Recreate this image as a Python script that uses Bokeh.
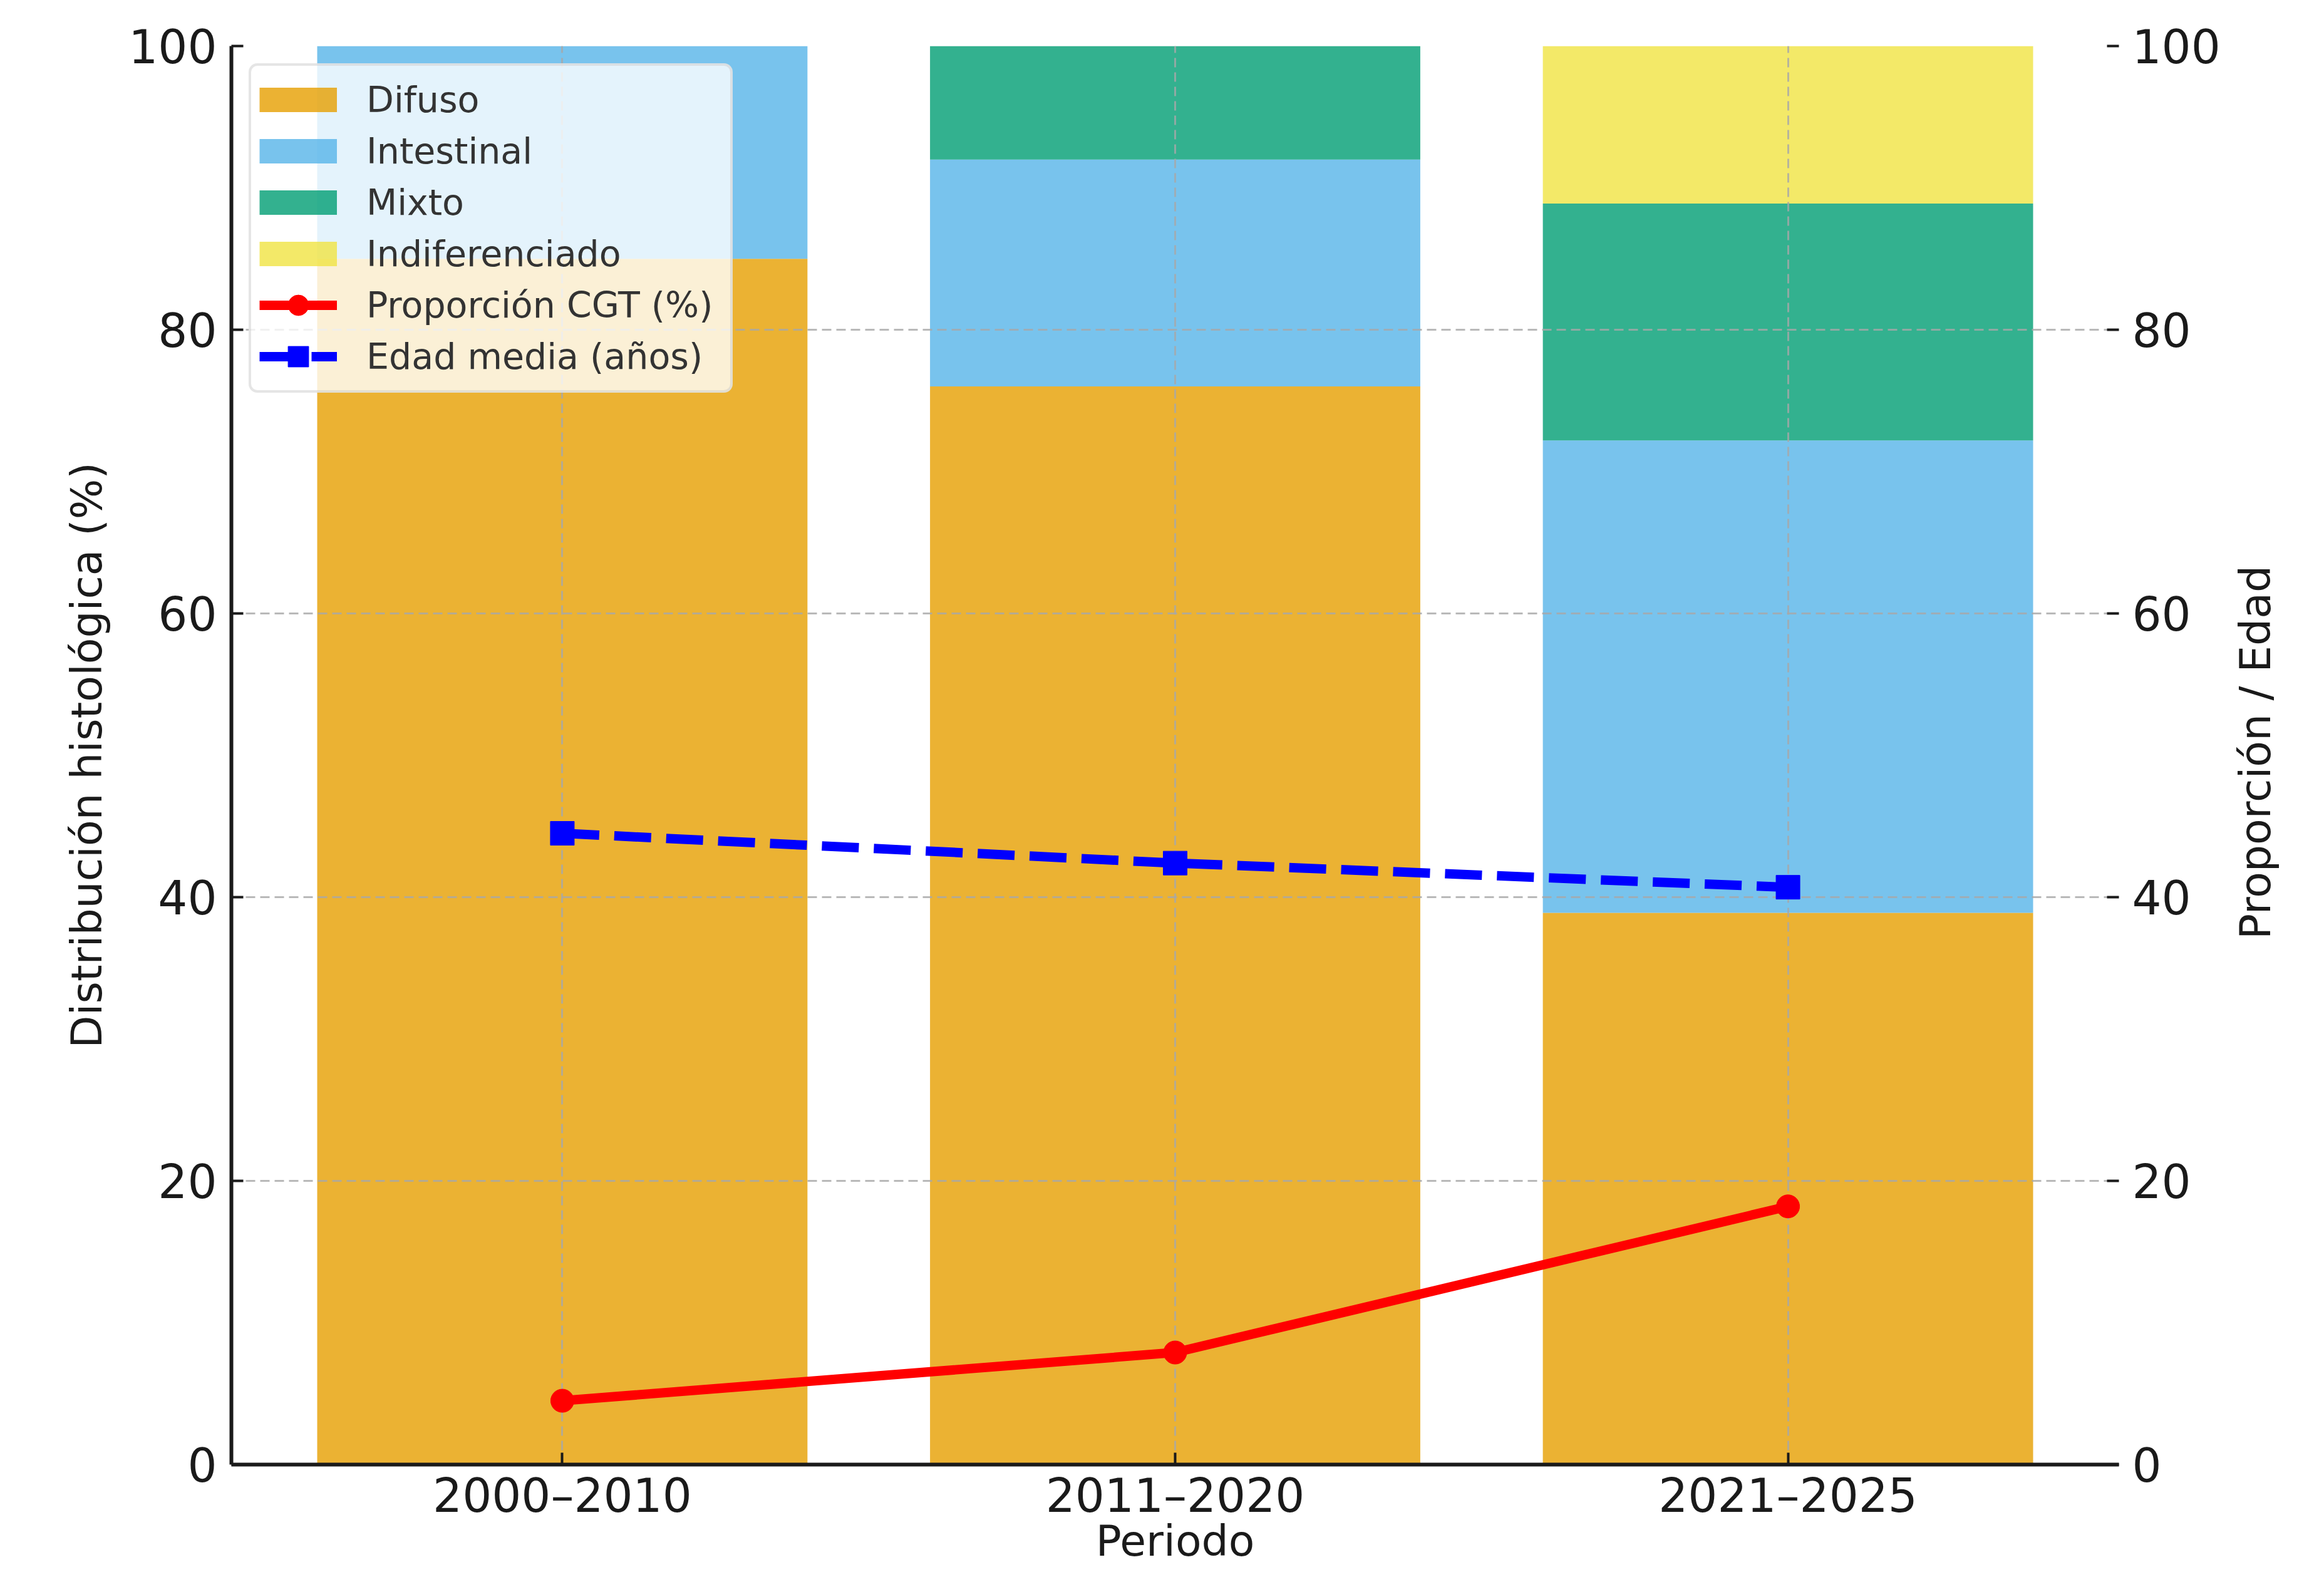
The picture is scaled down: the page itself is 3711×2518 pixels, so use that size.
import math
from bokeh.plotting import figure
from bokeh.models import (FactorRange, Range1d, LinearAxis, Legend, LegendItem,
                          FixedTicker, ColumnDataSource, Label)
from bokeh.embed import file_html
from bokeh.resources import INLINE

# ---- data ----
periods = ["2000–2010", "2011–2020", "2021–2025"]
histotypes = ["Difuso", "Intestinal", "Mixto", "Indiferenciado"]
difuso = [85.0, 76.0, 38.9]
intestinal = [15.0, 16.0, 33.3]
mixto = [0.0, 8.0, 16.7]
indiferenciado = [0.0, 0.0, 11.1]
cgt_pct = [4.5, 7.9, 18.2]
edad_media = [44.5, 42.4, 40.7]
y_ticks = [0, 20, 40, 60, 80, 100]

# ---- styles ----
colors = ["#E69F00", "#56B4E9", "#009E73", "#F0E442"]
FONT = "DejaVu Sans"
TXT = "#1a1a1a"

source = ColumnDataSource(data=dict(periodo=periods, Difuso=difuso, Intestinal=intestinal,
                                    Mixto=mixto, Indiferenciado=indiferenciado))

p = figure(x_range=FactorRange(factors=periods, range_padding=0.04, range_padding_units="absolute"),
           y_range=Range1d(0, 100), width=3695, height=2502,
           output_backend="svg", toolbar_location=None,
           min_border_left=369, min_border_right=312, min_border_top=73, min_border_bottom=155)
p.extra_y_ranges = {"right": Range1d(0, 100)}
p.outline_line_color = None
p.background_fill_color = "white"
p.border_fill_color = "white"

bars = p.vbar_stack(histotypes, x="periodo", width=0.8, source=source,
                    fill_color=colors, fill_alpha=0.8, line_color=None)
for r in bars:
    r.level = "image"

l_cgt = p.line(periods, cgt_pct, line_color="red", line_width=15, y_range_name="right")
s_cgt = p.scatter(periods, cgt_pct, marker="circle", size=37, color="red", y_range_name="right")
l_age = p.line(periods, edad_media, line_color="blue", line_width=15, line_dash="59 24",
               y_range_name="right")
s_age = p.scatter(periods, edad_media, marker="square", size=38, color="blue", y_range_name="right")

# legend swatches for the bar series (thick line proxies that draw nothing in the plot)
proxies = []
for c in colors:
    proxies.append(p.line(x=[periods[0]], y=[float("nan")], line_color=c, line_alpha=0.8,
                          line_width=39, line_cap="butt"))

# axes
p.xaxis.axis_label = "Periodo"
left = p.yaxis[0]
left.axis_label = "Distribución histológica (%)"
left.ticker = FixedTicker(ticks=y_ticks)
right = LinearAxis(y_range_name="right", ticker=FixedTicker(ticks=y_ticks))
p.add_layout(right, "right")

for ax in [p.xaxis[0], left, right]:
    ax.major_label_text_font = FONT
    ax.major_label_text_font_size = "74px"
    ax.major_label_text_color = TXT
    ax.axis_label_text_font = FONT
    ax.axis_label_text_font_size = "68px"
    ax.axis_label_text_font_style = "normal"
    ax.axis_label_text_color = TXT
    ax.major_tick_in = 19
    ax.major_tick_out = 0
    ax.major_tick_line_width = 4
    ax.major_tick_line_color = TXT
    ax.minor_tick_line_color = None
    ax.axis_line_width = 6
    ax.axis_line_color = TXT
right.axis_line_color = None

p.xaxis.major_label_standoff = 6
p.xaxis.axis_label_standoff = -13
left.major_label_standoff = 23
left.axis_label_standoff = 24
right.major_label_standoff = 21

# right-hand axis title, reading bottom-to-top, in its own side panel
right_title = Label(x=53, y=1137, x_units="screen", y_units="screen", text="Proporción / Edad",
                    angle=math.pi / 2, text_align="center", text_baseline="middle",
                    text_font=FONT, text_font_size="68px", text_color=TXT)
p.add_layout(right_title, "right")

p.grid.grid_line_dash = "15 8"
p.grid.grid_line_width = 3
p.grid.grid_line_color = "#a8a8a8"
p.grid.grid_line_alpha = 0.8

legend = Legend(items=[
    LegendItem(label=histotypes[0], renderers=[proxies[0]]),
    LegendItem(label=histotypes[1], renderers=[proxies[1]]),
    LegendItem(label=histotypes[2], renderers=[proxies[2]]),
    LegendItem(label=histotypes[3], renderers=[proxies[3]]),
    LegendItem(label="Proporción CGT (%)", renderers=[l_cgt, s_cgt]),
    LegendItem(label="Edad media (años)", renderers=[l_age, s_age]),
], location="top_left", margin=28)
legend.label_text_font = FONT
legend.label_text_font_size = "57px"
legend.label_text_color = "#333333"
legend.glyph_width = 124
legend.glyph_height = 82
legend.label_standoff = 47
legend.label_width = 568
legend.padding = 13
legend.spacing = 0
legend.background_fill_color = "white"
legend.background_fill_alpha = 0.8
legend.border_line_color = "#cccccc"
legend.border_line_width = 4
legend.border_radius = 14
p.add_layout(legend)

open("out.html", "w").write(file_html(p, INLINE))
